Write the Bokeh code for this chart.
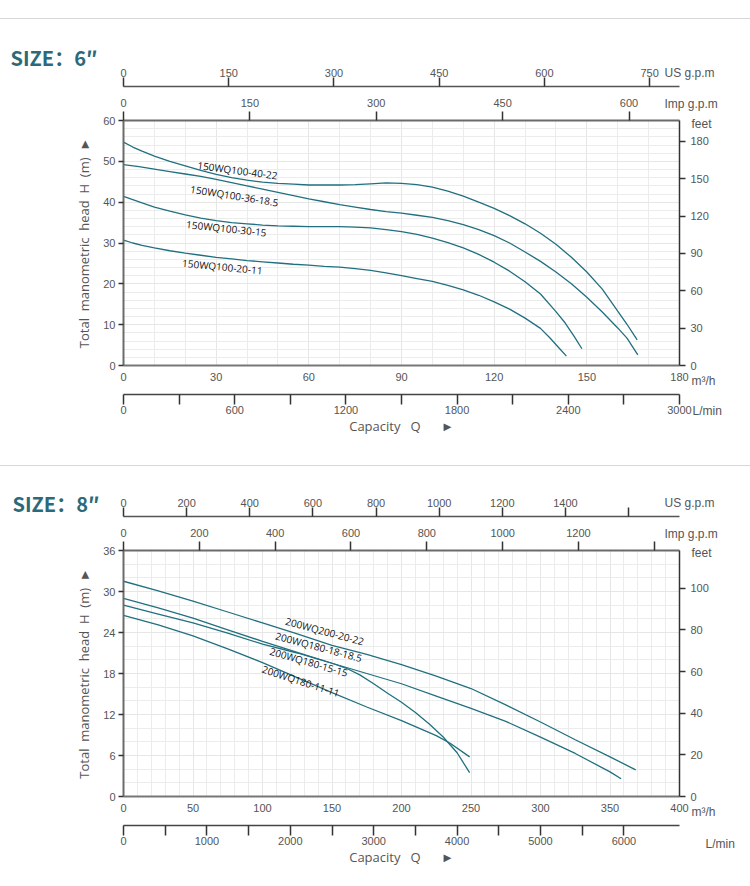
from bokeh.plotting import figure
from bokeh.models import LinearAxis, Range1d, FixedTicker, Label, Div, Spacer, ColumnDataSource
from bokeh.layouts import column
from bokeh.embed import file_html
from bokeh.resources import INLINE
from bokeh.core.properties import value

# unit conversions
USGPM_PER_M3H = 4.402868
IMPGPM_PER_M3H = 3.666154
LMIN_PER_M3H = 1000.0 / 60.0
FT_PER_M = 3.28084

# ---------------- SIZE 6" ----------------
s6_title = "SIZE：6″"
s6_q_max = 180
s6_h_max = 60
s6_q_ticks = [0, 30, 60, 90, 120, 150, 180]
s6_q_minor = list(range(0, 181, 10))
s6_h_ticks = [0, 10, 20, 30, 40, 50, 60]
s6_h_minor = list(range(0, 61, 2))
s6_ft_ticks = [0, 30, 60, 90, 120, 150, 180]
s6_us_ticks = [0, 150, 300, 450, 600, 750]
s6_imp_ticks = [0, 150, 300, 450, 600]
s6_lmin_ticks = [0, 300, 600, 900, 1200, 1500, 1800, 2100, 2400, 2700, 3000]
s6_lmin_shown = [0, 600, 1200, 1800, 2400, 3000]

s6_names = ["150WQ100-40-22", "150WQ100-36-18.5", "150WQ100-30-15", "150WQ100-20-11"]
s6_q_a = [0, 3, 6, 10, 15, 20, 25, 30, 35, 40, 45, 50, 55, 60, 65, 70, 75, 80, 85, 90, 95,
          100, 105, 110, 115, 120, 125, 130, 135, 140, 145, 150, 155, 160, 163, 166.3]
s6_h_a = [54.7, 53.5, 52.5, 51.3, 50.0, 48.9, 47.8, 46.8, 46.0, 45.4, 44.9, 44.6, 44.4, 44.2,
          44.2, 44.2, 44.3, 44.5, 44.7, 44.6, 44.3, 43.7, 42.7, 41.5, 40.0, 38.5, 36.7, 34.7,
          32.4, 29.7, 26.5, 22.9, 18.7, 13.3, 10.1, 6.3]
s6_q_b = [0, 5, 10, 15, 20, 25, 30, 35, 40, 45, 50, 55, 60, 65, 70, 75, 80, 85, 90, 95, 100,
          105, 110, 115, 120, 125, 130, 135, 140, 145, 150, 155, 160, 163, 166.5]
s6_h_b = [49.2, 48.7, 48.1, 47.5, 46.9, 46.3, 45.6, 44.8, 44.0, 43.2, 42.4, 41.6, 40.8, 40.1,
          39.4, 38.8, 38.2, 37.7, 37.3, 36.8, 36.3, 35.5, 34.5, 33.3, 31.8, 30.0, 27.8, 25.5,
          22.9, 20.0, 16.7, 13.1, 9.2, 6.7, 2.6]
s6_q_c = [0, 3, 6, 10, 15, 20, 25, 30, 35, 40, 45, 50, 55, 60, 65, 70, 75, 80, 85, 90, 95,
          100, 105, 110, 115, 120, 125, 130, 135, 140, 143, 146, 148.4]
s6_h_c = [41.4, 40.6, 39.8, 38.8, 37.8, 36.9, 36.1, 35.5, 35.0, 34.7, 34.4, 34.2, 34.1, 34.0,
          34.0, 34.0, 33.9, 33.7, 33.3, 32.8, 32.1, 31.2, 30.1, 28.8, 27.2, 25.3, 23.1, 20.5,
          17.5, 13.2, 10.4, 7.0, 4.1]
s6_q_d = [0, 3, 6, 10, 15, 20, 25, 30, 35, 40, 45, 50, 55, 60, 65, 70, 75, 80, 85, 90, 95,
          100, 105, 110, 115, 120, 125, 130, 135, 138, 141, 143.4]
s6_h_d = [30.7, 30.0, 29.4, 28.8, 28.1, 27.5, 27.0, 26.5, 26.1, 25.7, 25.4, 25.1, 24.8, 24.6,
          24.3, 24.1, 23.7, 23.3, 22.7, 22.0, 21.3, 20.6, 19.6, 18.5, 17.2, 15.6, 13.8, 11.6,
          9.1, 6.8, 4.3, 2.3]
s6_label_q = [36.9, 35.9, 33.3, 32.0]
s6_label_h = [47.8, 41.6, 33.6, 24.2]
s6_label_deg = [-7.5, -9, -6, -5.5]

# ---------------- SIZE 8" ----------------
s8_title = "SIZE：8″"
s8_q_max = 400
s8_h_max = 36
s8_q_ticks = [0, 50, 100, 150, 200, 250, 300, 350, 400]
s8_q_minor = list(range(0, 401, 10))
s8_h_ticks = [0, 6, 12, 18, 24, 30, 36]
s8_h_minor = list(range(0, 37, 2))
s8_ft_ticks = [0, 20, 40, 60, 80, 100]
s8_us_ticks = [0, 200, 400, 600, 800, 1000, 1200, 1400, 1600]
s8_us_shown = [0, 200, 400, 600, 800, 1000, 1200, 1400]
s8_imp_ticks = [0, 200, 400, 600, 800, 1000, 1200, 1400]
s8_imp_shown = [0, 200, 400, 600, 800, 1000, 1200]
s8_lmin_ticks = [0, 500, 1000, 1500, 2000, 2500, 3000, 3500, 4000, 4500, 5000, 5500, 6000]
s8_lmin_shown = [0, 1000, 2000, 3000, 4000, 5000, 6000]

s8_names = ["200WQ200-20-22", "200WQ180-18-18.5", "200WQ180-15-15", "200WQ180-11-11"]
s8_q_e = [0, 25, 50, 75, 100, 125, 150, 175, 200, 225, 250, 275, 300, 325, 350, 368.5]
s8_h_e = [31.5, 30.1, 28.6, 27.0, 25.4, 23.8, 22.1, 20.8, 19.3, 17.6, 15.8, 13.4, 10.9, 8.3, 5.8, 3.9]
s8_q_f = [0, 25, 50, 75, 100, 125, 150, 175, 200, 225, 250, 275, 300, 325, 350, 358]
s8_h_f = [29.0, 27.6, 26.1, 24.4, 22.7, 21.1, 19.5, 18.0, 16.5, 14.7, 12.9, 11.0, 8.7, 6.3, 3.6, 2.6]
s8_q_g = [0, 25, 50, 75, 100, 125, 140, 150, 160, 170, 180, 190, 200, 210, 220, 230, 240, 249]
s8_h_g = [28.0, 26.7, 25.4, 23.9, 22.3, 21.0, 20.1, 19.5, 18.8, 17.8, 16.5, 15.1, 13.8, 12.3,
          10.6, 8.7, 6.4, 3.5]
s8_q_h = [0, 25, 50, 75, 100, 125, 150, 175, 200, 225, 235, 249]
s8_h_h = [26.5, 25.1, 23.5, 21.6, 19.6, 17.4, 15.2, 13.1, 11.1, 8.9, 7.8, 5.8]
s8_label_q = [144.8, 140.5, 133.3, 127.6]
s8_label_h = [24.2, 21.9, 19.7, 16.9]
s8_label_deg = [-15, -15, -16, -18]

CURVE = "#21707f"
TXT = "#555555"
AX = "#6b6b6b"
TITLE_C = "#2c6a79"
AXFONT = "Liberation Sans"
NB = "\u00a0"


def blank_overrides(ticks, shown):
    return {t: "" for t in ticks if t not in shown}


def style_axis(ax, ticks, overrides=None, tick_out=9, standoff=2, line_w=1.5, line_c="#555555"):
    ax.ticker = FixedTicker(ticks=ticks)
    if overrides:
        ax.major_label_overrides = overrides
    ax.major_tick_out = tick_out
    ax.major_tick_in = 0
    ax.minor_tick_out = 0
    ax.minor_tick_in = 0
    ax.major_tick_line_color = "#333333"
    ax.major_tick_line_width = 1.5
    ax.axis_line_color = line_c
    ax.axis_line_width = line_w
    ax.major_label_standoff = standoff
    ax.major_label_text_font = AXFONT
    ax.major_label_text_font_size = "11px"
    ax.major_label_text_color = TXT


def make_chart(title, q_max, h_max, q_ticks, q_minor, h_ticks, h_minor, ft_ticks,
               us_ticks, us_over, imp_ticks, imp_over, lmin_ticks, lmin_over,
               curves, names, lab_q, lab_h, lab_deg,
               height, b_top, b_bottom, b_left, title_dy, unit_mid_dy, unit_lh,
               lmin_dx, lmin_dy):
    p = figure(width=750, height=height, output_backend="svg", toolbar_location=None,
               x_range=Range1d(0, q_max), y_range=Range1d(0, h_max),
               min_border_left=b_left, min_border_right=71,
               min_border_top=b_top, min_border_bottom=b_bottom,
               background_fill_color="white", border_fill_color="white")
    p.outline_line_color = None
    p.extra_x_ranges = {
        "us": Range1d(0, q_max * USGPM_PER_M3H),
        "imp": Range1d(0, q_max * IMPGPM_PER_M3H),
        "lmin": Range1d(0, q_max * LMIN_PER_M3H),
    }
    p.extra_y_ranges = {"ft": Range1d(0, h_max * FT_PER_M)}

    # main axes
    xa = p.xaxis[0]
    style_axis(xa, q_ticks, tick_out=0, standoff=7, line_w=2, line_c="#777777")
    xa.ticker = FixedTicker(ticks=q_ticks, minor_ticks=q_minor)
    xa.axis_label = " "
    xa.axis_label_text_font_size = "6px"
    xa.axis_label_standoff = 2
    ya = p.yaxis[0]
    style_axis(ya, h_ticks, tick_out=5, standoff=3, line_w=2, line_c=AX)
    ya.ticker = FixedTicker(ticks=h_ticks, minor_ticks=h_minor)
    ya.axis_label = ("Total" + NB + " manometric" + NB + " head" + NB + " H" + NB + " (m)"
                     + NB * 2 + "►")
    ya.axis_label_text_font = "Open Sans"
    ya.axis_label_text_font_size = "13px"
    ya.axis_label_text_font_style = "normal"
    ya.axis_label_text_color = TXT
    ya.axis_label_standoff = 7

    p.xgrid.grid_line_color = "#e6e6e6"
    p.xgrid.minor_grid_line_color = "#ececec"
    p.ygrid.grid_line_color = "#e6e6e6"
    p.ygrid.minor_grid_line_color = "#ececec"

    # right feet axis
    fa = LinearAxis(y_range_name="ft")
    style_axis(fa, ft_ticks, tick_out=6, standoff=5, line_w=1.5, line_c="#333333")
    p.add_layout(fa, "right")

    # top axes
    ia = LinearAxis(x_range_name="imp")
    style_axis(ia, imp_ticks, imp_over, tick_out=9, standoff=5, line_w=2, line_c=AX)
    ia.axis_label = " "
    ia.axis_label_text_font_size = "4px"
    ia.axis_label_standoff = 1
    p.add_layout(ia, "above")
    ua = LinearAxis(x_range_name="us")
    style_axis(ua, us_ticks, us_over, tick_out=9, standoff=1, line_w=1.5, line_c="#555555")
    p.add_layout(ua, "above")

    # bottom L/min axis
    la = LinearAxis(x_range_name="lmin")
    style_axis(la, lmin_ticks, lmin_over, tick_out=10, standoff=1, line_w=1.5, line_c="#444444")
    la.axis_label = "Capacity" + NB + NB + " Q" + NB * 5 + " ►"
    la.axis_label_text_font = "Open Sans"
    la.axis_label_text_font_size = "13px"
    la.axis_label_text_font_style = "normal"
    la.axis_label_text_color = TXT
    la.axis_label_standoff = 0
    p.add_layout(la, "below")

    for qs, hs in curves:
        p.line(qs, hs, line_color=CURVE, line_width=1.3)

    src = ColumnDataSource(dict(x=lab_q, y=lab_h, t=names,
                                a=[d * 3.14159265 / 180 for d in lab_deg]))
    p.text(x="x", y="y", text="t", angle="a", source=src, text_align="center",
           text_baseline="middle", text_font=value("Open Sans"), text_font_size="10px",
           text_color="#111111")

    # free texts: placed in side panels so that they are not clipped to the frame
    def lab(side, txt, x, y, dx, dy, size="12px", color=TXT, font=AXFONT, style="normal", lh=1.2):
        p.add_layout(Label(x=x, y=y, x_offset=dx, y_offset=dy, text=txt, text_font=font,
                           text_font_size=size, text_color=color, text_align="left",
                           text_baseline="middle", text_font_style=style,
                           text_line_height=lh), side)

    lab("above", title, 0, h_max, -(b_left - 10), title_dy, size="20px", color=TITLE_C,
        font="Noto Sans CJK SC", style="bold")
    lab("left", "US g.p.m\nImp g.p.m", q_max, h_max, -15, 32, lh=2.24)
    lab("right", "feet\nm³/h", q_max, h_max, 12, unit_mid_dy, lh=unit_lh)
    lab("below", "L/min", q_max, 0, lmin_dx, lmin_dy)
    return p


p6 = make_chart(s6_title, s6_q_max, s6_h_max, s6_q_ticks, s6_q_minor, s6_h_ticks, s6_h_minor,
                s6_ft_ticks, s6_us_ticks, None, s6_imp_ticks, None,
                s6_lmin_ticks, blank_overrides(s6_lmin_ticks, s6_lmin_shown),
                [(s6_q_a, s6_h_a), (s6_q_b, s6_h_b), (s6_q_c, s6_h_c), (s6_q_d, s6_h_d)],
                s6_names, s6_label_q, s6_label_h, s6_label_deg,
                height=446, b_top=101, b_bottom=100, b_left=123, title_dy=63,
                unit_mid_dy=-132, unit_lh=18.4, lmin_dx=13, lmin_dy=-45)

p8 = make_chart(s8_title, s8_q_max, s8_h_max, s8_q_ticks, s8_q_minor, s8_h_ticks, s8_h_minor,
                s8_ft_ticks, s8_us_ticks, blank_overrides(s8_us_ticks, s8_us_shown),
                s8_imp_ticks, blank_overrides(s8_imp_ticks, s8_imp_shown),
                s8_lmin_ticks, blank_overrides(s8_lmin_ticks, s8_lmin_shown),
                [(s8_q_e, s8_h_e), (s8_q_f, s8_h_f), (s8_q_g, s8_h_g), (s8_q_h, s8_h_h)],
                s8_names, s8_label_q, s8_label_h, s8_label_deg,
                height=420, b_top=83, b_bottom=90, b_left=121, title_dy=47,
                unit_mid_dy=-132, unit_lh=18.56, lmin_dx=26, lmin_dy=-47)


def sep():
    return Div(text="", width=750, height=1, margin=0, styles={"background-color": "#d6d6d6"})


layout = column(Spacer(width=750, height=18, margin=0), sep(), p6, sep(), p8, spacing=0)
open("out.html", "w").write(file_html(layout, INLINE))
